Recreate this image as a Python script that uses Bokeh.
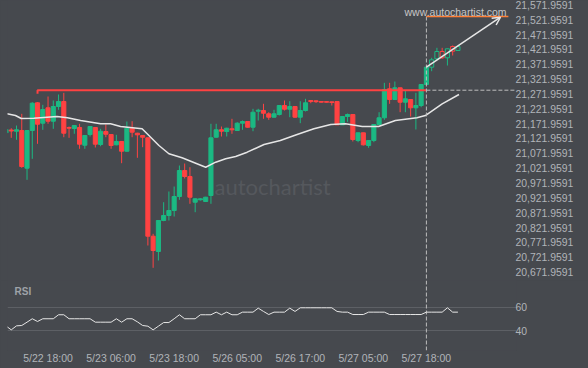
from bokeh.plotting import figure
from bokeh.layouts import column
from bokeh.models import (Range1d, FixedTicker, NumeralTickFormatter, Label,
                          Arrow, OpenHead, ColumnDataSource)
from bokeh.embed import file_html
from bokeh.resources import INLINE

# ---------------- data ----------------
open_ = [21141.0, 21150.4, 21146.3, 21148.7, 21021.8, 21148.7, 21242.0, 21173.3, 21225.1, 21180.0,
         21229.5, 21246.3, 21158.8, 21155.4, 21158.8, 21099.2, 21135.2, 21158.8, 21101.6, 21145.3,
         21135.2, 21100.5, 21111.7, 21079.0, 21156.4, 21139.6, 21131.9, 21124.1, 20792.8, 20741.3,
         20845.7, 20862.5, 20879.3, 20926.5, 21014.0, 20993.8, 20907.3, 20915.4, 20909.6, 20929.8,
         21126.1, 21151.1, 21145.3, 21154.4, 21148.7, 21173.3, 21179.0, 21159.8, 21213.7, 21216.0,
         21204.9, 21193.5, 21202.6, 21232.9, 21220.4, 21229.5, 21193.5, 21216.0, 21249.7, 21248.5,
         21246.3, 21246.0, 21245.3, 21246.3, 21167.9, 21195.8, 21202.6, 21115.0, 21141.0, 21098.2,
         21115.0, 21168.9, 21191.5, 21289.1, 21253.1, 21292.5, 21244.0, 21253.1, 21225.1, 21232.9,
         21303.6, 21361.8, 21390.1, 21414.7, 21393.5, 21431.5, 21418.0]
high = [21155.0, 21156.4, 21165.5, 21204.9, 21150.0, 21244.0, 21244.0, 21235.2, 21263.2, 21249.7,
        21269.9, 21275.6, 21162.2, 21167.0, 21171.3, 21133.0, 21163.5, 21160.0, 21154.4, 21168.9,
        21136.5, 21134.2, 21113.0, 21179.0, 21180.0, 21141.0, 21133.0, 21125.5, 20800.9, 20847.0,
        20907.3, 20943.3, 20960.1, 21030.8, 21037.6, 21025.1, 20920.0, 20920.7, 20925.5, 21171.3,
        21171.3, 21162.2, 21158.0, 21188.1, 21176.6, 21182.4, 21180.5, 21221.8, 21221.8, 21238.6,
        21210.3, 21218.4, 21234.0, 21249.7, 21247.3, 21231.0, 21247.3, 21255.4, 21250.7, 21250.0,
        21246.8, 21246.5, 21245.8, 21246.8, 21196.3, 21205.9, 21203.5, 21141.5, 21141.5, 21115.5,
        21169.4, 21210.3, 21309.3, 21309.3, 21313.7, 21293.0, 21283.4, 21253.6, 21275.6, 21304.1,
        21364.2, 21393.5, 21427.1, 21427.1, 21424.3, 21434.9, 21432.0]
low = [21138.0, 21124.1, 21117.4, 21023.1, 20982.7, 21053.4, 21103.9, 21151.1, 21171.3, 21154.4,
       21218.4, 21126.1, 21124.1, 21137.6, 21087.1, 21087.1, 21128.5, 21091.5, 21095.8, 21126.1,
       21087.1, 21099.0, 21038.6, 21077.5, 21126.1, 21056.8, 21092.5, 20761.5, 20686.4, 20711.0,
       20843.3, 20845.7, 20859.1, 20915.4, 20987.1, 20901.9, 20873.6, 20913.0, 20908.0, 20901.9,
       21124.5, 21128.5, 21128.5, 21137.6, 21147.0, 21151.1, 21157.8, 21146.3, 21182.4, 21188.1,
       21184.7, 21192.5, 21199.2, 21216.0, 21193.5, 21191.5, 21173.3, 21212.7, 21240.6, 21241.5,
       21243.5, 21243.0, 21232.9, 21167.4, 21167.4, 21178.0, 21111.7, 21109.3, 21098.2, 21090.4,
       21109.3, 21168.4, 21184.7, 21238.6, 21252.6, 21210.3, 21210.3, 21195.8, 21152.1, 21227.1,
       21303.1, 21348.4, 21386.7, 21390.1, 21367.5, 21401.2, 21417.5]
close = [21152.1, 21147.0, 21151.1, 21027.5, 21148.7, 21240.6, 21169.9, 21219.4, 21180.0, 21229.5,
         21246.3, 21139.6, 21156.4, 21165.5, 21102.6, 21131.9, 21162.2, 21102.6, 21146.3, 21136.2,
         21098.2, 21111.7, 21079.0, 21156.4, 21143.0, 21134.2, 21126.1, 20792.8, 20744.7, 20845.7,
         20862.5, 20879.3, 20926.5, 21014.0, 20993.8, 20924.1, 20918.7, 20918.7, 20924.1, 21124.1,
         21151.1, 21146.3, 21156.4, 21151.1, 21173.3, 21179.0, 21159.8, 21210.3, 21217.0, 21206.9,
         21193.5, 21204.9, 21232.9, 21220.4, 21229.5, 21193.5, 21216.0, 21242.0, 21246.3, 21245.8,
         21244.0, 21243.8, 21243.0, 21167.9, 21195.8, 21202.6, 21118.4, 21141.0, 21100.5, 21115.0,
         21168.9, 21191.5, 21286.7, 21253.1, 21292.5, 21244.0, 21255.4, 21225.1, 21232.9, 21303.6,
         21361.8, 21386.7, 21414.7, 21393.5, 21423.8, 21415.7, 21431.5]

# moving average line (vertices)
ma_idx = [0.2, 1.8, 2.9, 5.3, 9.7, 11.7, 14.2, 18.0, 19.9, 21.8, 25.9, 27.2, 29.1, 31.0, 33.5,
          36.1, 38.0, 39.9, 41.8, 43.7, 45.9, 49.1, 52.2, 55.4, 58.6, 61.8, 64.6, 67.8, 70.9,
          74.1, 78.2, 79.8, 83.0, 86.2]
ma_val = [21204.9, 21199.2, 21189.1, 21190.1, 21195.9, 21191.5, 21182.4, 21171.3, 21171.3,
          21162.2, 21154.5, 21131.9, 21098.2, 21070.3, 21056.8, 21038.6, 21025.1, 21042.0,
          21053.4, 21061.2, 21075.7, 21101.6, 21115.0, 21135.3, 21154.4, 21168.9, 21171.3,
          21162.2, 21162.2, 21182.4, 21191.5, 21199.2, 21238.6, 21269.9]

rsi = [44.1, 40.8, 44.2, 44.5, 47.3, 50.2, 47.9, 50.2, 50.2, 50.2,
       53.6, 53.6, 50.2, 50.2, 50.2, 50.2, 50.2, 47.3, 47.3, 47.3,
       47.3, 50.2, 47.3, 50.2, 50.2, 47.6, 44.5, 43.9, 40.8, 43.9,
       47.0, 47.0, 50.2, 53.6, 50.2, 50.2, 50.2, 53.6, 53.6, 53.6,
       55.8, 53.6, 55.8, 53.6, 53.6, 55.8, 55.8, 55.8, 59.2, 56.4,
       53.8, 55.8, 55.8, 55.8, 59.2, 56.4, 59.5, 59.5, 59.5, 59.5,
       59.5, 59.5, 59.5, 56.4, 55.8, 55.8, 53.8, 53.8, 53.8, 55.8,
       55.8, 55.8, 55.8, 53.8, 53.8, 53.8, 53.8, 53.8, 53.8, 53.8,
       55.8, 55.8, 55.8, 55.8, 59.5, 55.8, 55.8]

breakout_idx = 80            # pattern end (5/27 18:00)
resistance_start = 6
resistance_level = 21284.4
resistance_hook = 21272.3
target_level = 21532.6
target_end = 95.6
arrow_start = (80, 21361.8)
arrow_end = (94.1, 21530.2)

price_ticks = [20671.9591, 20721.9591, 20771.9591, 20821.9591, 20871.9591, 20921.9591,
               20971.9591, 21021.9591, 21071.9591, 21121.9591, 21171.9591, 21221.9591,
               21271.9591, 21321.9591, 21371.9591, 21421.9591, 21471.9591, 21521.9591,
               21571.9591]
rsi_ticks = [40, 60]
label_idx = [8, 20, 32, 44, 56, 68, 80]
label_txt = ["5/22 18:00", "5/23 06:00", "5/23 18:00", "5/26 05:00",
             "5/26 17:00", "5/27 05:00", "5/27 18:00"]

# ---------------- styling / geometry ----------------
BG = "#46494e"
GREEN = "#1bb983"
RED = "#ff4242"
ORANGE = "#ff8038"
WHITE = "#e6e6e6"
DASH = "#bdbdbd"
TXT = "#b1b4b9"
FONT = "Liberation Sans"

W = 588
MAIN_H = 280
RSI_H = 88
LEFT_B = 7
FRAME_W = 509
RIGHT_B = W - LEFT_B - FRAME_W
PX_PER_BAR = 5.255
FIRST_BAR_PX = 5.5
X0 = (LEFT_B - FIRST_BAR_PX) / PX_PER_BAR
x_range = Range1d(X0, X0 + FRAME_W / PX_PER_BAR)

TOP_TICK_PX = 4.3
PX_PER_PT = 14.85 / 50.0
ptop = price_ticks[-1] + TOP_TICK_PX / PX_PER_PT
pbot = price_ticks[-1] - (MAIN_H - TOP_TICK_PX) / PX_PER_PT

RSI_BOTTOM_B = 18
RSI_FRAME_H = RSI_H - RSI_BOTTOM_B
R60_PX = 26.7
PX_PER_RSI = 1.18
rtop = 60 + R60_PX / PX_PER_RSI
rbot = 60 - (RSI_FRAME_H - R60_PX) / PX_PER_RSI


def price_at(img_y):
    return price_ticks[-1] - (img_y - TOP_TICK_PX) / PX_PER_PT


def idx_at(img_x):
    return (img_x - FIRST_BAR_PX) / PX_PER_BAR


def style_fig(f):
    f.background_fill_color = BG
    f.border_fill_color = BG
    f.outline_line_color = None
    f.min_border_left = LEFT_B
    f.min_border_top = 0
    f.min_border_right = RIGHT_B


def style_right_axis(a):
    a.axis_line_color = None
    a.major_tick_line_color = None
    a.minor_tick_line_color = None
    a.major_tick_out = 0
    a.major_tick_in = 0
    a.major_label_standoff = -1
    a.major_label_text_font = FONT
    a.major_label_text_font_size = "10.4px"
    a.major_label_text_color = TXT


# ---------------- main price figure ----------------
p = figure(width=W, height=MAIN_H, x_range=x_range, y_range=Range1d(pbot, ptop),
           output_backend="svg", toolbar_location=None, x_axis_location=None,
           y_axis_location="right")
style_fig(p)
p.min_border_bottom = 0
p.grid.visible = False

ya = p.yaxis[0]
ya.ticker = FixedTicker(ticks=price_ticks)
ya.formatter = NumeralTickFormatter(format="0,0.0000")
style_right_axis(ya)

# watermarks
p.add_layout(Label(x=idx_at(214), y=price_at(186), text="autochartist",
                   text_font="Lato", text_font_size="22px", text_color="#55585d",
                   text_baseline="middle", text_align="left", level="underlay"))
p.add_layout(Label(x=idx_at(404), y=price_at(11.5), text="www.autochartist.com",
                   text_font=FONT, text_font_size="10.5px", text_color="#c6c6c6",
                   text_baseline="middle", text_align="left"))

idx = list(range(len(open_)))
filled = dict(x=[], top=[], bot=[], h=[], l=[], color=[])
hollow = dict(x=[], top=[], bot=[], h=[], l=[], color=[])
for i, o, h, l, c in zip(idx, open_, high, low, close):
    d = hollow if i > breakout_idx else filled
    d["x"].append(i)
    d["top"].append(max(o, c))
    d["bot"].append(min(o, c))
    d["h"].append(h)
    d["l"].append(l)
    d["color"].append(GREEN if c >= o else RED)
fs = ColumnDataSource(filled)
hs = ColumnDataSource(hollow)

p.segment(x0="x", y0="h", x1="x", y1="l", line_color="color", line_width=1, source=fs)
p.vbar(x="x", width=0.78, top="top", bottom="bot", fill_color="color",
       line_color="color", line_width=1, source=fs)
p.segment(x0="x", y0="h", x1="x", y1="l", line_color="color", line_width=1, source=hs)
p.vbar(x="x", width=0.78, top="top", bottom="bot", fill_color=BG,
       line_color="color", line_width=1, source=hs)

# moving average
p.line(ma_idx, ma_val, line_color=WHITE, line_width=1.5)

# resistance line, projection dashes, target, arrow
p.line([resistance_start, resistance_start, breakout_idx],
       [resistance_hook, resistance_level, resistance_level],
       line_color=RED, line_width=2)
p.segment(x0=[breakout_idx], y0=[resistance_level], x1=[x_range.end], y1=[resistance_level],
          line_color=DASH, line_width=1, line_dash="4 2")
p.segment(x0=[breakout_idx], y0=[target_level], x1=[breakout_idx], y1=[pbot],
          line_color=DASH, line_width=1, line_dash="4 2")
p.line([breakout_idx, target_end], [target_level, target_level],
       line_color=ORANGE, line_width=1.5)
p.add_layout(Arrow(end=OpenHead(size=8, line_color=WHITE, line_width=1.5),
                   x_start=arrow_start[0], y_start=arrow_start[1],
                   x_end=arrow_end[0], y_end=arrow_end[1],
                   line_color=WHITE, line_width=1.5))

# ---------------- RSI figure ----------------
r = figure(width=W, height=RSI_H, x_range=x_range, y_range=Range1d(rbot, rtop),
           output_backend="svg", toolbar_location=None, y_axis_location="right")
style_fig(r)
r.min_border_bottom = RSI_BOTTOM_B
r.xgrid.visible = False
r.ygrid.ticker = FixedTicker(ticks=rsi_ticks)
r.ygrid.grid_line_color = "#5d6065"
r.ygrid.grid_line_width = 1

ra = r.yaxis[0]
ra.ticker = FixedTicker(ticks=rsi_ticks)
style_right_axis(ra)

xa = r.xaxis[0]
xa.ticker = FixedTicker(ticks=label_idx)
xa.major_label_overrides = {i: t for i, t in zip(label_idx, label_txt)}
xa.axis_line_color = None
xa.major_tick_line_color = None
xa.minor_tick_line_color = None
xa.major_tick_out = 0
xa.major_label_standoff = 1
xa.major_label_text_font = FONT
xa.major_label_text_font_size = "10.5px"
xa.major_label_text_color = TXT

r.add_layout(Label(x=idx_at(14), y=60 + (R60_PX - 11) / PX_PER_RSI, text="RSI",
                   text_font=FONT, text_font_size="10px", text_font_style="bold",
                   text_color="#9ea2a8", text_baseline="middle", text_align="left"))

r.segment(x0=[breakout_idx], y0=[rtop], x1=[breakout_idx], y1=[rbot],
          line_color=DASH, line_width=1, line_dash="4 2")
r.line(idx, rsi, line_color=WHITE, line_width=1)

layout = column(p, r, spacing=0)

open("out.html", "w").write(
    file_html(layout, INLINE).replace(
        "</head>", "<style>body{background:%s;}</style></head>" % BG, 1))
